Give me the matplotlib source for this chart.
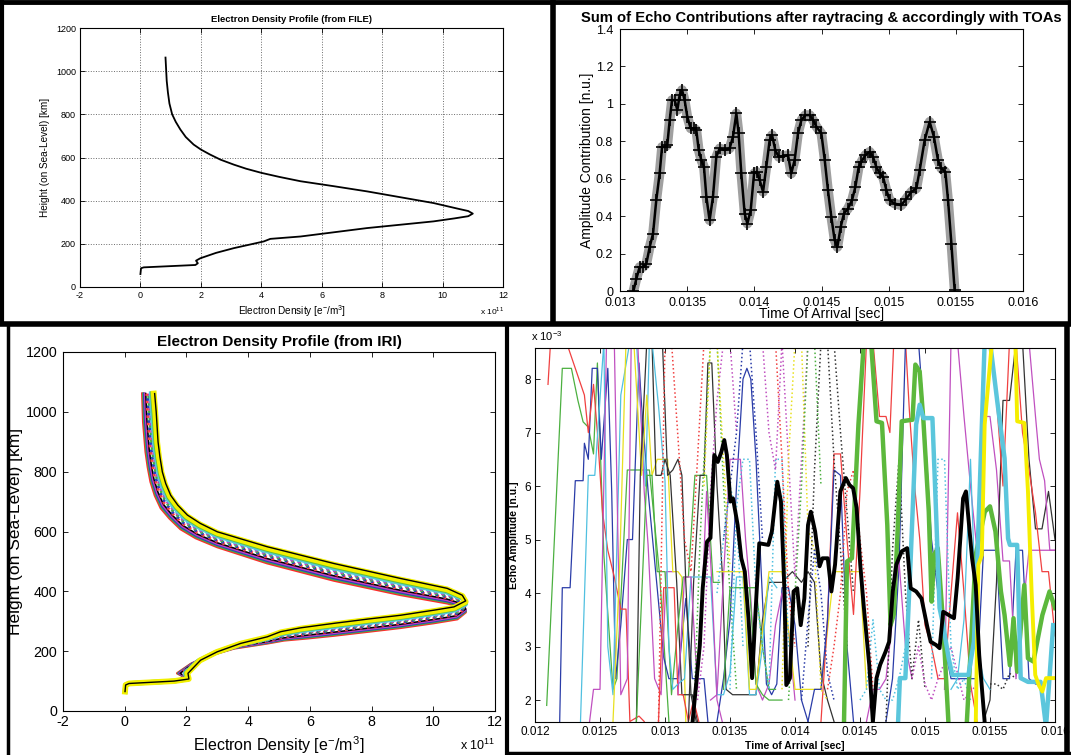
import numpy as np
import matplotlib
matplotlib.use("Agg")
import matplotlib.pyplot as plt
from matplotlib.lines import Line2D

plt.rcParams["font.family"] = ["Liberation Sans", "DejaVu Sans"]
plt.rcParams["axes.unicode_minus"] = False

W, H = 1071, 755

# ── Panel 1: electron density profile from file ───────────────────────────────
file_ne = [0, 0.02, 0.11, 1.82, 1.9, 1.84, 1.98, 2.5, 3.09, 4.08, 4.3, 5.3, 7.5, 9.7,
           10.4, 10.85, 11.0, 10.85, 10.5, 9.7, 8.6, 7.5, 6.4, 5.3, 4.6, 4.0, 3.5, 3.09,
           2.65, 2.3, 2.0, 1.76, 1.5, 1.32, 1.17, 1.05, 0.96, 0.91, 0.87, 0.85, 0.83]
file_h = [60, 87, 91, 102, 110, 122, 133, 158, 180, 211, 223, 234, 273, 304,
          318, 328, 340, 352, 363, 389, 416, 443, 467, 490, 510, 529, 548, 567,
          590, 614, 637, 660, 695, 730, 765, 800, 850, 901, 955, 1009, 1063]

# ── Panel 2: sum of echo contributions ───────────────────────────────────────
sum_t = [13.100, 13.122, 13.146, 13.171, 13.196, 13.221, 13.246, 13.270, 13.295, 13.313,
         13.333, 13.352, 13.370, 13.387, 13.407, 13.427, 13.444, 13.462, 13.481, 13.501,
         13.526, 13.551, 13.568, 13.586, 13.605, 13.625, 13.643, 13.667, 13.692, 13.717,
         13.742, 13.779, 13.816, 13.841, 13.866, 13.883, 13.903, 13.928, 13.948, 13.973,
         13.998, 14.017, 14.040, 14.065, 14.089, 14.114, 14.132, 14.156, 14.181, 14.213,
         14.251, 14.275, 14.300, 14.325, 14.350, 14.380, 14.412, 14.437, 14.462, 14.499,
         14.524, 14.548, 14.573, 14.598, 14.618, 14.643, 14.667, 14.697, 14.727, 14.752,
         14.777, 14.797, 14.826, 14.859, 14.883, 14.908, 14.933, 14.958, 14.983, 15.007,
         15.045, 15.094, 15.132, 15.169, 15.206, 15.231, 15.268, 15.305, 15.337, 15.367,
         15.392, 15.422, 15.442, 15.467, 15.491]
sum_amp = [0.0, 0.066, 0.128, 0.128, 0.146, 0.235, 0.307, 0.485, 0.628, 0.77,
           0.77, 0.78, 0.913, 1.02, 1.02, 0.967, 1.047, 1.074, 1.02, 0.931,
           0.869, 0.869, 0.86, 0.753, 0.70, 0.663, 0.503, 0.378, 0.503, 0.717,
           0.762, 0.753, 0.762, 0.824, 0.949, 0.842, 0.628, 0.414, 0.36, 0.432,
           0.628, 0.637, 0.592, 0.53, 0.663, 0.806, 0.833, 0.753, 0.717, 0.72,
           0.726, 0.628, 0.70, 0.842, 0.913, 0.94, 0.94, 0.913, 0.878, 0.842,
           0.70, 0.539, 0.396, 0.271, 0.235, 0.342, 0.414, 0.44, 0.485, 0.556,
           0.663, 0.69, 0.726, 0.744, 0.717, 0.663, 0.628, 0.61, 0.539, 0.485,
           0.467, 0.458, 0.494, 0.53, 0.548, 0.646, 0.806, 0.904, 0.824, 0.70,
           0.655, 0.637, 0.485, 0.253, 0.004]

# ── Panel 3: IRI profiles (outer and inner edge of the bundle, same points) ──
iri_outer_ne = [0.01, 0.03, 0.14, 1.6, 2.08, 2.05, 2.46, 3.0, 3.76, 4.62, 5.05, 5.7, 6.78, 7.86, 8.94,
                10.02, 10.67, 11.05, 10.94, 10.45, 8.94, 6.78, 4.62, 3.0, 2.45, 2.03, 1.72, 1.49,
                1.33, 1.22, 1.14, 1.08, 1.02, 0.97]
iri_outer_h = [65, 87, 92, 100, 107, 126, 170, 198, 226, 248, 265, 278, 293, 307, 320,
               337, 348, 368, 387, 410, 443, 493, 549, 599, 627, 655, 688, 721,
               760, 799, 850, 900, 1000, 1061]
iri_inner_ne = [0.01, 0.03, 0.14, 1.6, 2.03, 1.7, 2.14, 2.68, 3.54, 4.62, 5.16, 5.92, 6.78, 7.86, 8.94,
                10.02, 10.78, 11.05, 11.0, 10.45, 8.94, 6.78, 4.62, 3.0, 2.3, 1.81, 1.45, 1.17,
                0.98, 0.84, 0.75, 0.68, 0.6, 0.57]
iri_inner_h = [65, 87, 92, 100, 109, 126, 157, 183, 209, 226, 236, 243, 252, 265, 278,
               294, 307, 330, 345, 360, 388, 436, 494, 548, 578, 608, 644, 678,
               720, 766, 815, 866, 966, 1061]
# position of each profile inside the bundle (0 = outer, 1 = inner)
iri_band_pos = [1.00, 0.93, 0.86, 0.79, 0.72, 0.64, 0.57, 0.50, 0.43, 0.36, 0.27, 0.17, 0.07, 0.0]
iri_colors = ["#ff2a2a", "#44b044", "#2a3cc0", "#c040c0", "#000000", "#ff4040", "#2a3cc0",
              "#44b044", "#c040c0", "#40c0e0", "#55c8dc", "#62c040", "#f2f000", "#000000"]
iri_styles = ["-", "-", "-", "-", "-", ":", ":", ":", ":", ":", "-", "-", "-", "-"]
iri_widths = [1.8, 1.6, 1.6, 1.6, 1.1, 2.0, 2.0, 2.0, 2.0, 2.0, 3.4, 3.4, 4.2, 1.0]

# ── Panel 4: single echo contributions (time in ms, amplitude x 1e-3) ────────
black_t = [13.212, 13.268, 13.290, 13.323, 13.350, 13.365, 13.379, 13.406, 13.434, 13.456,
           13.476, 13.503, 13.523, 13.559, 13.587, 13.614, 13.642, 13.670, 13.698, 13.725,
           13.795, 13.822, 13.864, 13.892, 13.919, 13.933, 13.961, 13.989, 14.017, 14.044,
           14.072, 14.100, 14.122, 14.155, 14.189, 14.211, 14.252, 14.280, 14.308, 14.349,
           14.391, 14.419, 14.447, 14.474, 14.502, 14.530, 14.571, 14.599, 14.627, 14.655,
           14.696, 14.724, 14.752, 14.779, 14.821, 14.863, 14.890, 14.932, 14.973, 15.015,
           15.043, 15.085, 15.112, 15.140, 15.182, 15.223, 15.251, 15.293, 15.315, 15.334,
           15.362, 15.390, 15.417, 15.459]
black_a = [1.59, 3.03, 4.09, 4.96, 5.03, 5.90, 6.58, 6.45, 6.64, 6.86,
           6.58, 5.71, 5.77, 5.27, 4.65, 4.40, 3.53, 2.41, 3.72, 4.93,
           4.90, 5.15, 6.08, 5.71, 4.03, 2.28, 2.41, 4.03, 4.09, 3.40,
           3.90, 5.27, 5.52, 5.15, 4.50, 4.65, 4.65, 4.03, 4.53, 5.90,
           6.15, 6.02, 5.96, 5.59, 4.53, 3.72, 2.66, 1.59, 2.41, 2.66,
           2.90, 3.09, 4.03, 4.53, 4.78, 4.84, 4.09, 4.03, 3.90, 3.40,
           3.09, 3.03, 2.97, 3.65, 3.59, 3.53, 4.28, 5.77, 5.90, 5.40,
           4.65, 4.15, 2.84, 1.59]
green_t = [14.377, 14.400, 14.438, 14.488, 14.530, 14.585, 14.627, 14.669, 14.710, 14.735,
           14.760, 14.790, 14.821, 14.904, 14.926, 14.959, 14.988, 15.029, 15.051, 15.070,
           15.098, 15.140, 15.182, 15.320, 15.390, 15.460, 15.500, 15.542, 15.584, 15.612,
           15.653, 15.681, 15.709, 15.764, 15.792, 15.834, 15.903, 15.958, 16.000]
green_a = [1.59, 4.59, 4.65, 7.15, 8.70, 8.70, 7.21, 7.18, 5.27, 3.40,
           3.60, 5.20, 7.21, 7.24, 8.27, 8.14, 7.21, 5.52, 3.84, 4.71,
           4.84, 3.40, 1.50, 1.50, 4.71, 5.52, 5.62, 5.15, 4.03, 3.59,
           2.65, 3.53, 2.53, 4.15, 2.78, 2.72, 3.59, 4.03, 3.72]
cyan_t = [14.793, 14.807, 14.849, 14.890, 14.932, 14.959, 14.988, 15.057, 15.085, 15.112,
          15.140, 15.182, 15.210, 15.334, 15.376, 15.403, 15.459, 15.500, 15.556, 15.612,
          15.639, 15.653, 15.709, 15.736, 15.792, 15.889, 15.931, 15.986]
cyan_a = [1.59, 2.41, 2.41, 4.65, 7.15, 7.52, 7.27, 7.27, 5.52, 3.72,
          3.40, 2.78, 2.47, 2.47, 3.09, 4.65, 8.70, 8.70, 7.58, 6.52,
          5.02, 4.90, 4.90, 2.41, 2.34, 2.34, 1.50, 3.40]
yellow_t = [15.390, 15.410, 15.437, 15.459, 15.515, 15.695, 15.709, 15.764, 15.792, 15.820,
            15.848, 15.875, 15.903, 15.931, 16.000]
yellow_a = [1.50, 4.53, 4.71, 7.15, 8.70, 8.70, 7.21, 7.18, 5.90, 4.03,
            2.47, 2.28, 2.16, 2.41, 2.41]

thin_colors = ["#4cb040", "#2a3ca8", "#f04040", "#50c0e0", "#c050c0", "#e8e020", "#333333",
               "#4cb040", "#f04040", "#333333", "#2a3ca8", "#c050c0", "#50c0e0", "#4cb040",
               "#e8e020", "#f04040", "#f04040", "#2a3ca8", "#c050c0", "#333333",
               "#50c0e0", "#c050c0", "#333333", "#4cb040", "#2a3ca8", "#c050c0", "#50c0e0",
               "#f04040", "#c050c0"]
thin_t = [
    [12.09, 12.21, 12.28, 12.33, 12.37, 12.41, 12.45, 12.48, 12.53, 12.60, 12.63, 12.71, 12.88, 12.92, 12.96, 13.03],
    [12.19, 12.21, 12.27, 12.31, 12.37, 12.38, 12.41, 12.44, 12.48, 12.51, 12.56, 12.59, 12.62, 12.66, 12.71,
     12.75, 12.80, 12.82, 12.87, 12.99, 13.03, 13.10, 13.16, 13.21, 13.30, 13.33],
    [12.10, 12.12, 12.24, 12.38, 12.41, 12.45, 12.48, 12.52, 12.56, 12.61, 12.66, 12.70, 12.73, 12.80, 12.84],
    [12.35, 12.41, 12.46, 12.53, 12.56, 12.60, 12.66, 12.73, 12.78, 12.85, 12.88],
    [12.42, 12.45, 12.50, 12.55, 12.61, 12.66, 12.71, 12.74, 12.79, 12.84, 12.87, 12.92, 12.97, 13.01, 13.06],
    [12.60, 12.65, 12.70, 12.76, 12.82, 12.86, 12.90, 12.94, 12.98, 13.02, 13.06, 13.10, 13.13, 13.16],
    [12.78, 12.81, 12.86, 12.90, 12.93, 12.97, 13.00, 13.04, 13.09, 13.13, 13.17, 13.21, 13.25],
    [12.78, 12.82, 12.86, 12.90, 12.94, 13.00, 13.05, 13.10, 13.14, 13.18, 13.23, 13.27, 13.32, 13.37, 13.42],
    [12.95, 12.99, 13.03, 13.07, 13.10, 13.14, 13.18, 13.22, 13.26],
    [13.18, 13.22, 13.27, 13.30, 13.33, 13.36, 13.40, 13.44, 13.47, 13.52, 13.60, 13.70, 13.75, 13.80, 13.90,
     13.98, 14.05, 14.10, 14.15, 14.20, 14.25, 14.30],
    [13.40, 13.45, 13.50, 13.55, 13.60, 13.63, 13.66, 13.70, 13.74, 13.78, 13.82, 13.86, 13.90, 13.95, 14.00, 14.05, 14.10],
    [13.35, 13.40, 13.45, 13.50, 13.55, 13.58, 13.62, 13.66, 13.70, 13.75, 13.80, 13.85, 13.90, 13.95, 14.00],
    [13.30, 13.35, 13.40, 13.45, 13.50, 13.55, 13.60, 13.65, 13.70, 13.75, 13.80, 13.86],
    [13.45, 13.50, 13.55, 13.60, 13.65, 13.70, 13.75, 13.80, 13.85, 13.90],
    [13.40, 13.45, 13.55, 13.60, 13.65, 13.70, 13.80, 13.90, 14.00, 14.10, 14.20, 14.30, 14.40, 14.50, 14.55],
    [14.20, 14.25, 14.30, 14.35, 14.40, 14.45, 14.50, 14.55, 14.60, 14.65, 14.70, 14.73, 14.76, 14.80],
    [14.85, 14.88, 14.92, 14.96, 15.00, 15.05, 15.10, 15.15, 15.20, 15.25, 15.30, 15.35, 15.40],
    [14.70, 14.75, 14.80, 14.85, 14.90, 14.95, 15.00, 15.05, 15.10, 15.15, 15.20, 15.25, 15.30, 15.40, 15.45,
     15.50, 15.55, 15.60, 15.65, 15.70, 15.75, 15.80, 15.85, 15.90],
    [15.15, 15.20, 15.25, 15.30, 15.35, 15.40, 15.45, 15.50, 15.55, 15.60, 15.65, 15.70, 15.80, 15.90, 16.00],
    [15.45, 15.50, 15.55, 15.60, 15.65, 15.70, 15.75, 15.80, 15.85, 15.90, 15.95, 16.00],
    [12.90, 12.95, 13.00, 13.03, 13.06, 13.10, 13.15, 13.20, 13.25, 13.30],
    [13.10, 13.15, 13.20, 13.25, 13.28, 13.32, 13.36, 13.40, 13.44],
    [12.98, 13.02, 13.06, 13.10, 13.13, 13.16, 13.20, 13.24],
    [13.60, 13.65, 13.70, 13.75, 13.80, 13.85],
    [14.10, 14.15, 14.20, 14.25, 14.30, 14.35, 14.40, 14.45],
    [14.55, 14.60, 14.65, 14.70, 14.75, 14.80, 14.85, 14.90],
    [15.20, 15.25, 15.30, 15.35, 15.40, 15.45, 15.50],
    [15.45, 15.50, 15.55, 15.60, 15.65, 15.70, 15.75, 15.80, 15.85, 15.90, 15.95, 16.00],
    [15.80, 15.85, 15.88, 15.92, 15.96, 16.00],
]
thin_a = [
    [1.9, 8.2, 8.2, 7.6, 7.2, 7.1, 6.6, 8.3, 4.7, 2.2, 2.4, 6.3, 6.3, 5.3, 4.3, 1.6],
    [1.6, 4.1, 4.1, 6.1, 6.1, 6.8, 6.5, 8.2, 8.2, 6.5, 8.2, 5.9, 2.4, 3.4, 5.0,
     5.0, 8.3, 7.5, 5.9, 2.8, 2.4, 2.4, 3.9, 2.4, 2.4, 1.6],
    [7.9, 8.7, 8.7, 7.7, 7.0, 7.9, 7.0, 5.5, 4.8, 4.3, 3.7, 3.7, 1.6, 1.7, 1.6],
    [1.6, 6.2, 6.2, 8.7, 3.0, 2.1, 7.7, 8.7, 8.7, 6.0, 8.7],
    [1.6, 2.2, 2.2, 8.7, 8.7, 2.1, 2.4, 8.7, 8.7, 5.9, 4.9, 2.4, 2.1, 4.4, 4.4],
    [1.6, 4.4, 8.7, 8.7, 6.2, 7.7, 6.2, 6.5, 6.5, 6.5, 4.4, 4.4, 4.3, 1.6],
    [1.6, 6.2, 8.7, 8.7, 6.2, 6.2, 6.5, 6.2, 4.2, 2.1, 2.1, 2.1, 1.6],
    [1.6, 3.9, 6.2, 6.2, 4.4, 4.4, 2.1, 3.4, 4.3, 4.3, 6.2, 6.2, 6.2, 4.2, 4.2],
    [1.6, 4.1, 4.1, 4.1, 2.1, 2.1, 1.6, 2.0, 1.6],
    [1.6, 4.2, 6.2, 6.2, 8.3, 8.3, 6.0, 4.4, 2.2, 2.1, 2.1, 2.1, 3.5, 4.2, 4.2,
     4.4, 4.2, 4.4, 4.2, 2.5, 2.0, 1.6],
    [1.6, 2.4, 3.5, 6.0, 8.0, 8.2, 8.0, 6.5, 4.4, 2.3, 2.1, 2.3, 4.1, 4.1, 3.4, 2.0, 1.6],
    [2.0, 2.1, 4.3, 6.5, 6.5, 6.5, 5.0, 3.9, 2.3, 2.0, 2.3, 3.4, 4.0, 3.3, 2.0],
    [4.3, 4.3, 2.1, 2.1, 2.5, 4.3, 4.3, 2.1, 2.1, 3.0, 4.3, 4.1],
    [2.2, 4.1, 4.1, 4.1, 4.1, 2.3, 2.1, 2.0, 2.0, 2.0],
    [4.4, 4.4, 4.4, 4.4, 2.2, 2.2, 4.4, 4.4, 2.2, 2.2, 2.2, 4.4, 4.4, 4.4, 2.2],
    [1.6, 3.5, 6.6, 6.6, 5.0, 3.6, 5.9, 8.7, 8.7, 7.3, 7.3, 7.0, 8.7, 8.7],
    [8.7, 7.4, 6.0, 5.0, 3.4, 3.0, 2.4, 2.4, 4.0, 5.5, 4.0, 2.3, 1.6],
    [1.6, 2.4, 4.5, 8.7, 8.7, 8.7, 7.0, 5.0, 4.0, 3.0, 2.4, 2.4, 2.4, 2.4, 4.8,
     4.8, 4.8, 2.4, 2.4, 4.8, 4.8, 2.4, 2.3, 2.3],
    [2.2, 8.7, 8.7, 7.3, 6.0, 4.8, 7.3, 7.3, 6.3, 4.6, 4.6, 2.4, 4.8, 4.8, 4.8],
    [1.6, 2.0, 4.2, 7.6, 7.6, 8.7, 8.7, 6.5, 5.2, 5.2, 5.9, 5.0],
    [8.7, 7.5, 6.1, 3.0, 2.2, 2.3, 2.4, 4.3, 4.3, 4.3],
    [2.1, 4.3, 4.3, 2.2, 3.6, 5.9, 4.2, 2.0, 1.6],
    [8.7, 6.2, 6.3, 6.5, 6.2, 4.2, 2.1, 1.6],
    [4.1, 4.1, 4.1, 3.0, 2.2, 2.2],
    [1.6, 2.2, 2.2, 3.5, 6.3, 6.2, 3.0, 1.6],
    [1.6, 2.2, 2.2, 2.4, 3.5, 4.6, 3.0, 2.4],
    [2.2, 2.4, 3.5, 6.5, 3.0, 2.4, 2.2],
    [8.7, 8.7, 7.6, 6.0, 8.7, 8.7, 7.0, 6.3, 5.5, 4.4, 4.4, 3.2],
    [8.7, 7.3, 6.5, 6.1, 4.8, 4.8],
]

dot_colors = ["#f04040", "#4cb040", "#2a3ca8", "#50c0e0", "#c050c0", "#e8e020", "#333333",
              "#f04040", "#50c0e0", "#333333", "#c050c0", "#50c0e0", "#333333",
              "#c050c0", "#4cb040", "#2a3ca8", "#e8e020", "#50c0e0", "#f04040", "#333333"]
dot_t = [
    [12.95, 13.00, 13.05, 13.10, 13.15, 13.20, 13.25, 13.30, 13.35],
    [13.22, 13.27, 13.30, 13.35, 13.40, 13.45, 13.50, 13.55],
    [13.45, 13.50, 13.55, 13.60, 13.65, 13.70, 13.75],
    [13.50, 13.55, 13.60, 13.65, 13.70, 13.75, 13.80, 13.85, 13.90, 13.95],
    [13.70, 13.75, 13.80, 13.85, 13.90, 13.95, 14.00, 14.05, 14.10],
    [13.90, 13.95, 14.00, 14.05, 14.10, 14.15, 14.20, 14.25],
    [14.10, 14.15, 14.20, 14.25, 14.30, 14.35, 14.40],
    [14.25, 14.30, 14.35, 14.40, 14.45, 14.50, 14.55, 14.60],
    [14.50, 14.55, 14.60, 14.65, 14.70, 14.75, 14.80, 14.85],
    [14.70, 14.75, 14.80, 14.85, 14.90, 14.95, 15.00],
    [14.90, 14.95, 15.00, 15.05, 15.10, 15.20, 15.30, 15.40],
    [15.05, 15.10, 15.15, 15.20, 15.25, 15.30, 15.35],
    [15.50, 15.55, 15.60, 15.65, 15.70],
    [13.25, 13.30, 13.35, 13.40, 13.45, 13.50, 13.55],
    [13.95, 14.00, 14.05, 14.10, 14.15, 14.20],
    [14.05, 14.10, 14.15, 14.20, 14.25, 14.30],
    [13.30, 13.35, 13.40, 13.45, 13.50],
    [13.40, 13.45, 13.50, 13.55, 13.60],
    [13.80, 13.85, 13.90, 13.95, 14.00],
    [14.25, 14.30, 14.35, 14.40, 14.45],
]
dot_a = [
    [1.6, 8.7, 8.7, 6.9, 5.0, 4.4, 6.5, 8.7, 8.7],
    [1.6, 5.0, 6.5, 8.7, 8.7, 6.0, 4.0, 2.2],
    [5.0, 6.0, 7.0, 8.7, 8.7, 7.0, 5.0],
    [2.2, 5.6, 6.5, 6.5, 4.0, 3.0, 2.2, 6.5, 6.5, 3.0],
    [8.7, 8.7, 7.0, 6.3, 8.7, 6.5, 4.3, 6.5, 8.7],
    [2.2, 6.5, 8.7, 8.7, 5.2, 4.8, 2.2, 2.0],
    [3.0, 6.3, 8.7, 8.7, 6.5, 4.8, 3.0],
    [2.2, 3.0, 4.0, 5.9, 6.3, 5.0, 4.0, 2.2],
    [2.0, 2.2, 3.5, 2.2, 2.0, 2.0, 2.4, 3.0],
    [1.6, 4.8, 6.5, 4.0, 2.4, 3.5, 2.2],
    [2.4, 3.0, 2.3, 2.0, 2.4, 3.0, 2.0, 2.3],
    [2.4, 6.5, 6.5, 3.0, 2.2, 2.4, 2.0],
    [2.3, 2.3, 2.2, 2.5, 2.4],
    [2.0, 3.0, 5.9, 7.6, 8.7, 8.7, 7.0],
    [2.0, 4.0, 6.0, 8.7, 8.7, 6.0],
    [2.0, 3.5, 4.8, 4.0, 2.5, 2.0],
    [6.0, 8.7, 8.7, 6.5, 4.5],
    [4.0, 5.0, 6.0, 5.5, 3.0],
    [8.7, 8.7, 6.5, 4.0, 3.0],
    [8.7, 8.7, 7.0, 5.5, 4.0],
]


def px_axes(fig, left, top, right, bottom):
    return fig.add_axes([left / W, 1 - bottom / H, (right - left) / W, (bottom - top) / H])


def matlab_ticks(ax, size):
    ax.tick_params(direction="in", top=True, right=True, length=3.5, width=0.6,
                   labelsize=size, pad=3)
    for sp in ax.spines.values():
        sp.set_linewidth(0.8)


def fig_line(fig, x0, y0, x1, y1, lw):
    fig.add_artist(Line2D([x0 / W, x1 / W], [1 - y0 / H, 1 - y1 / H],
                          transform=fig.transFigure, color="black", lw=lw,
                          solid_capstyle="butt"))


fig = plt.figure(figsize=(W / 100, H / 100), dpi=100)

# panel 1
ax1 = px_axes(fig, 80, 28, 503, 287)
ax1.plot(file_ne, file_h, color="black", lw=1.3)
ax1.set_xlim(-2, 12)
ax1.set_ylim(0, 1200)
ax1.set_xticks(range(-2, 13, 2))
ax1.set_yticks(range(0, 1201, 200))
ax1.grid(True, linestyle=":", color="#6b6b6b", lw=0.7)
matlab_ticks(ax1, 6.5)
ax1.set_title("Electron Density Profile (from FILE)", fontsize=6.8, fontweight="bold", pad=4)
ax1.set_xlabel("Electron Density [e$^{\\mathregular{-}}$/m$^{\\mathregular{3}}$]", fontsize=7.2, labelpad=2)
ax1.set_ylabel("Height (on Sea-Level) [km]", fontsize=7.2, labelpad=4)
fig.text(492 / W, 1 - 311 / H, "x 10$^{\\mathregular{11}}$", fontsize=6, ha="center", va="center")

# panel 2
ax2 = px_axes(fig, 620, 29, 1023, 291)
t2 = np.array(sum_t) / 1000
ax2.plot(t2, sum_amp, color="#a0a0a0", lw=7.0, solid_joinstyle="round")
ax2.plot(t2, sum_amp, color="black", lw=1.8, marker="+", ms=9, mew=1.2)
ax2.set_xlim(0.013, 0.016)
ax2.set_ylim(0, 1.4)
ax2.set_xticks([0.013, 0.0135, 0.014, 0.0145, 0.015, 0.0155, 0.016])
ax2.set_xticklabels(["0.013", "0.0135", "0.014", "0.0145", "0.015", "0.0155", "0.016"])
ax2.set_yticks([0, 0.2, 0.4, 0.6, 0.8, 1.0, 1.2, 1.4])
ax2.set_yticklabels(["0", "0.2", "0.4", "0.6", "0.8", "1", "1.2", "1.4"])
matlab_ticks(ax2, 9)
ax2.tick_params(axis="x", pad=4.5)
ax2.tick_params(axis="y", pad=5)
ax2.set_title("Sum of Echo Contributions after raytracing & accordingly with TOAs",
              fontsize=10.6, fontweight="bold", pad=5)
ax2.set_xlabel("Time Of Arrival [sec]", fontsize=10, labelpad=-1.5)
ax2.set_ylabel("Amplitude Contribution [n.u.]", fontsize=10, labelpad=1)

# panel 3
ax3 = px_axes(fig, 63, 352, 495, 711)
o_ne, o_h = np.array(iri_outer_ne), np.array(iri_outer_h)
i_ne, i_h = np.array(iri_inner_ne), np.array(iri_inner_h)
for s, c, ls, lw in zip(iri_band_pos, iri_colors, iri_styles, iri_widths):
    ax3.plot(o_ne + s * (i_ne - o_ne), o_h + s * (i_h - o_h), color=c, ls=ls, lw=lw,
             solid_joinstyle="round")
ax3.set_xlim(-2, 12)
ax3.set_ylim(0, 1200)
ax3.set_xticks(range(-2, 13, 2))
ax3.set_yticks(range(0, 1201, 200))
matlab_ticks(ax3, 10.3)
ax3.tick_params(axis="y", pad=4)
ax3.set_title("Electron Density Profile (from IRI)", fontsize=11, fontweight="bold", pad=4)
ax3.set_xlabel("Electron Density [e$^{\\mathregular{-}}$/m$^{\\mathregular{3}}$]", fontsize=11.5, labelpad=4)
ax3.set_ylabel("Height (on Sea-Level) [km]", fontsize=12.5, labelpad=2)
fig.text(478 / W, 1 - 745 / H, "x 10$^{\\mathregular{11}}$", fontsize=9, ha="center", va="center")

# panel 4
ax4 = px_axes(fig, 535, 348, 1055, 722)
for c, t, a in zip(thin_colors, thin_t, thin_a):
    ax4.plot(np.array(t) / 1000, a, color=c, lw=0.9)
for c, t, a in zip(dot_colors, dot_t, dot_a):
    ax4.plot(np.array(t) / 1000, a, color=c, lw=1.1, ls=":")
ax4.plot(np.array(green_t) / 1000, green_a, color="#5cb83c", lw=3.2)
ax4.plot(np.array(cyan_t) / 1000, cyan_a, color="#5bc6dc", lw=3.2)
ax4.plot(np.array(yellow_t) / 1000, yellow_a, color="#f5ee00", lw=2.8)
ax4.plot(np.array(black_t) / 1000, black_a, color="black", lw=2.8)
ax4.set_xlim(0.012, 0.016)
ax4.set_ylim(1.59, 8.58)
ax4.set_xticks([0.012, 0.0125, 0.013, 0.0135, 0.014, 0.0145, 0.015, 0.0155, 0.016])
ax4.set_xticklabels(["0.012", "0.0125", "0.013", "0.0135", "0.014", "0.0145", "0.015", "0.0155", "0.016"])
ax4.set_yticks(range(2, 9))
matlab_ticks(ax4, 8.5)
ax4.set_xlabel("Time of Arrival [sec]", fontsize=7.5, fontweight="bold", labelpad=2)
ax4.set_ylabel("Echo Amplitude [n.u.]", fontsize=7.5, fontweight="bold", labelpad=4)
fig.text(547 / W, 1 - 336 / H, "x 10$^{\\mathregular{-3}}$", fontsize=8, ha="center", va="center")

# black frames between the panels
fig_line(fig, 2, 0, 2, 325, 3)
fig_line(fig, 0, 2, 1071, 2, 3.5)
fig_line(fig, 553, 0, 553, 325, 4)
fig_line(fig, 1069, 0, 1069, 325, 2.5)
fig_line(fig, 0, 324, 1071, 324, 4)
fig_line(fig, 8, 325, 8, 755, 2.5)
fig_line(fig, 507, 325, 507, 755, 3)
fig_line(fig, 1067, 325, 1067, 755, 4)
fig_line(fig, 505, 753, 1071, 753, 2.5)

fig.savefig("out.png", dpi=100)
